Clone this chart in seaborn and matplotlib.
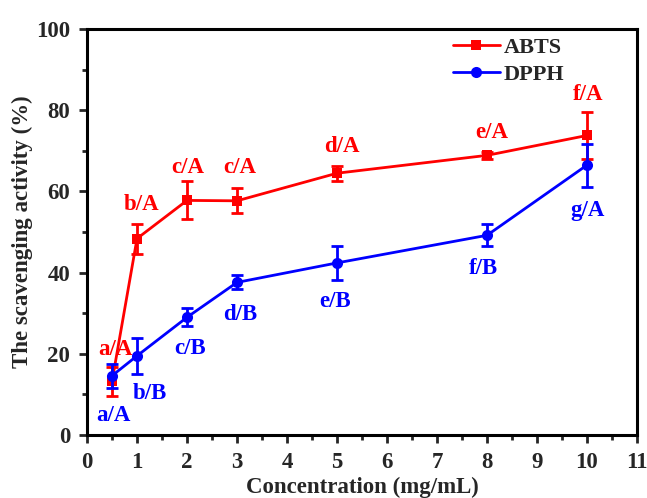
import matplotlib
matplotlib.use("Agg")
import matplotlib.pyplot as plt
import seaborn as sns
import pandas as pd
from matplotlib.ticker import MultipleLocator

sns.set_style("ticks")
plt.rcParams['font.family'] = ['Liberation Serif', 'DejaVu Serif']
plt.rcParams['font.weight'] = 'bold'

conc = [0.5, 1, 2, 3, 5, 8, 10]
abts = [13.2, 48.4, 57.8, 57.7, 64.5, 68.9, 73.8]
abts_err = [3.6, 3.7, 4.7, 3.1, 1.9, 0.9, 5.8]
dpph = [14.6, 19.5, 29.0, 37.6, 42.4, 49.2, 66.5]
dpph_err = [3.0, 4.4, 2.2, 1.7, 4.2, 2.7, 5.3]
abts_labels = ["a/A", "b/A", "c/A", "c/A", "d/A", "e/A", "f/A"]
dpph_labels = ["a/A", "b/B", "c/B", "d/B", "e/B", "f/B", "g/A"]
abts_lab_pos = [(0.56, 21.0), (1.09, 56.9), (2.02, 66.0), (3.06, 66.0), (5.09, 71.0), (8.09, 74.5), (10.02, 83.9)]
dpph_lab_pos = [(0.52, 4.8), (1.26, 10.3), (2.06, 21.2), (3.06, 29.8), (4.96, 32.8), (7.92, 41.0), (10.02, 55.2)]

RED = "#ff0000"
BLUE = "#0000ff"

df = pd.DataFrame({
    "Concentration": conc * 2,
    "Activity": abts + dpph,
    "Assay": ["ABTS"] * len(conc) + ["DPPH"] * len(conc),
})

fig = plt.figure(figsize=(6.47, 4.98), dpi=100)
ax = fig.add_axes([0.1345, 0.1265, 0.85, 0.815])

for series, err, col in [(abts, abts_err, RED), (dpph, dpph_err, BLUE)]:
    ax.errorbar(conc, series, yerr=err, fmt="none", ecolor=col, elinewidth=2,
                capsize=4.5, capthick=2, zorder=3 if col == RED else 5)

sns.lineplot(data=df, x="Concentration", y="Activity", hue="Assay", style="Assay",
             markers={"ABTS": "s", "DPPH": "o"}, dashes=False,
             palette={"ABTS": RED, "DPPH": BLUE}, linewidth=2, markersize=7,
             markeredgewidth=0, ax=ax, legend=True, zorder=4)
for ln in ax.lines:
    if ln.get_marker() == "o":
        ln.set_markersize(8)

for lab, (x, y) in zip(abts_labels, abts_lab_pos):
    ax.text(x, y, lab, color=RED, fontsize=16.5, fontweight="bold", ha="center", va="center")
for lab, (x, y) in zip(dpph_labels, dpph_lab_pos):
    ax.text(x, y, lab, color=BLUE, fontsize=16.5, fontweight="bold", ha="center", va="center")

ax.set_xlim(0, 11)
ax.set_ylim(0, 100)
ax.xaxis.set_major_locator(MultipleLocator(1))
ax.xaxis.set_minor_locator(MultipleLocator(0.5))
ax.yaxis.set_major_locator(MultipleLocator(20))
ax.yaxis.set_minor_locator(MultipleLocator(10))
ax.tick_params(which="major", direction="out", length=6, width=2, labelsize=16.5, pad=6)
ax.tick_params(which="minor", direction="out", length=3.5, width=2)
for lbl in ax.get_xticklabels() + ax.get_yticklabels():
    lbl.set_fontweight("bold")
for sp in ax.spines.values():
    sp.set_linewidth(2.2)
    sp.set_color("black")

ax.set_xlabel("Concentration (mg/mL)", fontsize=16.5, fontweight="bold", labelpad=3)
ax.set_ylabel("The scavenging activity (%)", fontsize=16.5, fontweight="bold", labelpad=2)

leg = ax.legend(loc="upper right", bbox_to_anchor=(0.905, 1.03), frameon=False,
                fontsize=16, handlelength=2.1, labelspacing=0.3, handletextpad=0.2)
for t in leg.get_texts():
    t.set_fontweight("bold")
for h in leg.legend_handles:
    if h.get_marker() == "o":
        h.set_markersize(8)
leg.set_title(None)

fig.savefig("out.png", dpi=100)
